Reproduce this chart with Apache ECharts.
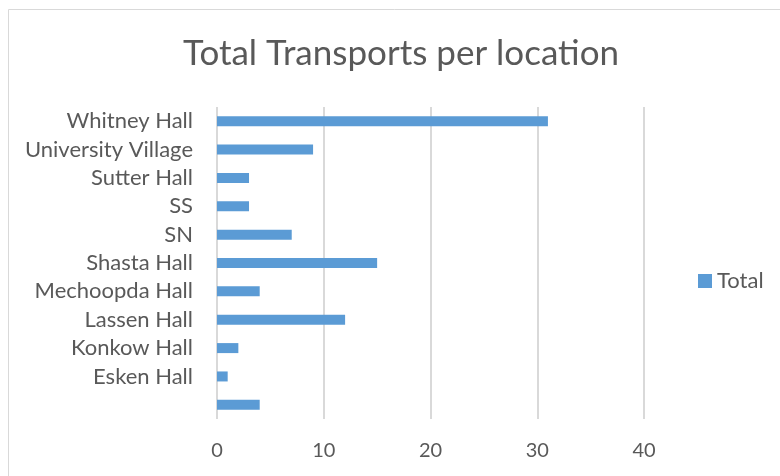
<!DOCTYPE html>
<html>
<head>
<meta charset="utf-8">
<script src="https://cdn.jsdelivr.net/npm/echarts@6/dist/echarts.min.js"></script>
<style>
  html, body { margin: 0; padding: 0; background: #fff; }
  #chart { width: 780px; height: 476px; }
</style>
</head>
<body>
<div id="chart"></div>
<script>
// 数据 (bottom to top, as drawn)
const locations = ["", "Esken Hall", "Konkow Hall", "Lassen Hall", "Mechoopda Hall",
  "Shasta Hall", "SN", "SS", "Sutter Hall", "University Village", "Whitney Hall"];
const totals = [4, 1, 2, 12, 4, 15, 7, 3, 3, 9, 31];
const xTicks = [0, 10, 20, 30, 40];

const FONT = "Lato, 'Open Sans', sans-serif";
const chart = echarts.init(document.getElementById("chart"));

chart.setOption({
  animation: false,
  graphic: [
    {
      type: "rect",
      shape: { x: 8.5, y: 9.5, width: 800, height: 500 },
      style: { fill: "none", stroke: "#d9d9d9", lineWidth: 1 },
      silent: true,
    },
  ],
  title: {
    text: "Total Transports per location",
    left: 396,
    textAlign: "center",
    top: 31,
    textStyle: { color: "#595959", fontSize: 35, fontWeight: "normal", fontFamily: FONT },
  },
  legend: {
    data: ["Total"],
    left: 693,
    top: 265,
    itemWidth: 14,
    itemHeight: 14,
    itemGap: 6,
    icon: "rect",
    textStyle: { color: "#595959", fontSize: 22, fontFamily: FONT },
  },
  grid: { left: 217, right: 136, top: 107, bottom: 57 },
  xAxis: {
    type: "value",
    min: xTicks[0],
    max: xTicks[xTicks.length - 1],
    interval: 10,
    axisLine: { show: false },
    axisTick: { show: false },
    axisLabel: { color: "#595959", fontSize: 20, fontFamily: FONT, margin: 22 },
    splitLine: { lineStyle: { color: "#d9d9d9", width: 2 } },
  },
  yAxis: {
    type: "category",
    data: locations,
    axisLine: { show: false },
    axisTick: { show: false },
    axisLabel: { color: "#595959", fontSize: 22, fontFamily: FONT, margin: 24, interval: 0 },
  },
  series: [
    {
      name: "Total",
      type: "bar",
      data: totals,
      barWidth: 10,
      itemStyle: { color: "#5B9BD5" },
    },
  ],
});
</script>
</body>
</html>
